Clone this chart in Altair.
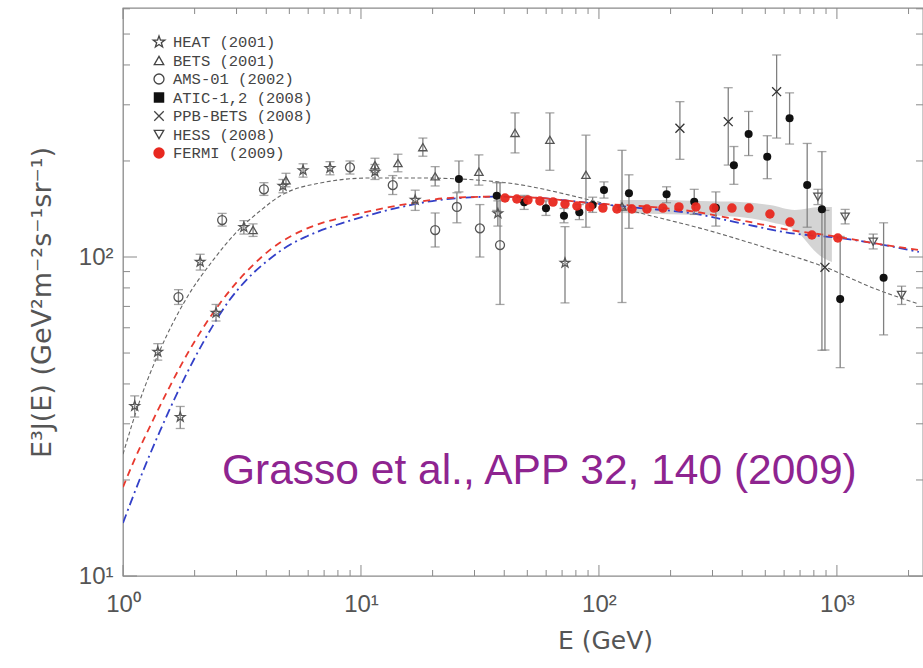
import altair as alt
import pandas as pd

# ---------------- data ----------------
heat_E = [1.12, 1.40, 1.74, 2.11, 2.46, 3.22, 4.70, 5.71, 7.41, 11.45, 16.9, 37.6, 72.0]
heat_v = [34.1, 50.4, 31.5, 96.5, 66.8, 124, 167, 187, 190, 185, 151, 137, 95.8]
heat_lo = [31.5, 47.5, 29.0, 91, 63, 118, 159, 178, 181, 175, 140, 125, 71.8]
heat_hi = [36.7, 53.5, 34.0, 102, 71, 130, 175, 196, 199, 195, 162, 150, 124.5]

bets_E = [3.52, 4.84, 11.45, 14.3, 18.2, 20.5, 31.3, 44.4, 62.2, 88.2, 125]
bets_v = [121.5, 174, 194, 197, 221, 179, 185, 245, 233, 181, 144]
bets_lo = [116, 166, 184, 185, 207, 167, 168, 212, 187, 124, 72]
bets_hi = [127, 183, 204, 210, 236, 192, 209, 283, 283, 241, 216]

ams_E = [1.71, 2.61, 3.91, 8.99, 13.6, 20.5, 25.3, 31.6, 38.4]
ams_v = [74.9, 130.6, 163, 191, 168, 121.5, 143.5, 123, 109]
ams_lo = [71, 125, 156, 182, 157, 107.5, 128, 100, 71]
ams_hi = [79, 137, 171, 200, 180, 137.4, 159, 146, 171]

atic_E = [25.8, 37.2, 48.5, 59.9, 71.3, 82.7, 94.1, 105, 133.7, 192.4, 251.4, 310,
          369, 425.6, 509.6, 632.5, 750, 865, 1032, 1571]
atic_v = [175.6, 155.6, 148.4, 142.1, 134.7, 138.1, 145.5, 162.2, 158.4, 157.2, 149.1, 142.7,
          193.9, 243, 206.2, 272.2, 168.2, 141.1, 73.8, 86.1]
atic_lo = [160, 140, 141, 135, 128, 131, 138, 153, 123, 148, 136, 125,
           169, 208, 176, 226, 124, 51, 45, 57]
atic_hi = [200, 171, 156, 150, 142, 146, 154, 172, 181, 166, 163, 160,
           222, 286, 240, 327, 227, 214, 116, 128]

ppb_E = [218.9, 349.4, 558, 890.6]
ppb_v = [253.2, 265.6, 329.8, 92.8]
ppb_lo = [202.4, 194.2, 236, 51.1]
ppb_hi = [306.9, 339.4, 429.9, 140]

hess_E = [832, 1083, 1421, 1870]
hess_v = [154.5, 133.8, 111.7, 76]
hess_lo = [146, 127, 106, 71]
hess_hi = [163, 141, 118, 81]

fermi_E = [40.3, 45.2, 50.3, 56.5, 64.1, 72.0, 80.8, 91.7, 103.9, 119.0, 137.6, 159.1,
           185.7, 216.8, 255.6, 304.2, 362.2, 426.9, 523, 634.7, 785.2, 1009]
fermi_v = [153.1, 152.0, 150.9, 149.8, 148.7, 146.6, 144.5, 143.5, 142.4, 141.4, 141.4, 141.4,
           142.4, 143.5, 143.5, 142.4, 142.4, 142.4, 136.4, 128.7, 117.2, 114.7]

# Fermi systematic band
band_E = [122.5, 180.4, 265.7, 391.3, 523, 666.1, 848.5, 952.6]
band_hi = [150.9, 150.9, 149.8, 148.7, 145.5, 140.4, 143.5, 143.5]
band_lo = [137.4, 136.4, 135.4, 133.5, 128.7, 121.5, 101.0, 96.5]

# model curves
conv_E = [1.0, 1.179, 1.431, 1.852, 2.395, 3.004, 3.763, 4.567, 6.725, 10.91, 17.7, 38.4,
          91.7, 148.7, 284.3, 538.4, 890.5, 1417, 2211]
conv_J = [24.1, 35.6, 51.1, 74.4, 97.9, 119.8, 139.4, 155.3, 170.6, 176.9, 176.9, 171.8,
          150.9, 137.4, 121.5, 105.2, 93.0, 80.0, 71.2]

red_E = [1.0, 1.102, 1.337, 1.576, 1.858, 2.168, 2.556, 3.013, 3.518, 4.146, 5.179, 6.725,
         9.256, 12.86, 16.54, 22.98, 37.27, 56.5, 91.7, 148.7, 241.2, 391.3, 634.7, 1029,
         1417, 2211]
red_J = [19.0, 22.6, 30.8, 39.4, 49.5, 59.9, 71.6, 83.5, 94.3, 105.3, 117.2, 127.2,
         135.3, 142.9, 147.7, 153.0, 154.6, 153.1, 147.6, 144.5, 139.4, 130.6, 121.5, 115.5,
         110.6, 105.2]

blue_E = [1.0, 1.213, 1.431, 1.686, 2.006, 2.366, 2.762, 3.319, 4.146, 5.031, 5.932, 7.929,
          10.91, 15.02, 22.98, 37.27, 56.5, 91.7, 148.7, 241.2, 391.3, 634.7, 1029, 1417, 2211]
blue_J = [14.66, 21.3, 28.5, 37.3, 48.4, 60.3, 72.2, 85.1, 98.8, 109.3, 116.2, 126.2,
          135.5, 143.9, 151.9, 154.6, 153.1, 147.6, 142.4, 137.4, 127.8, 118.9, 114.7, 110.6,
          103.7]

legend_labels = ["HEAT (2001)", "BETS (2001)", "AMS-01 (2002)", "ATIC-1,2 (2008)",
                 "PPB-BETS (2008)", "HESS (2008)", "FERMI (2009)"]

x_major = [1, 10, 100, 1000]
x_minor = [2, 3, 4, 5, 6, 7, 8, 9, 20, 30, 40, 50, 60, 70, 80, 90,
           200, 300, 400, 500, 600, 700, 800, 900, 2000]
y_major = [10, 100]
y_minor = [20, 30, 40, 50, 60, 70, 80, 90, 200, 300, 400, 500, 600]

# ---------------- styling ----------------
W, H = 800, 568
GREY = "#555555"
STAR = ("M0,-1L0.235,-0.324L0.951,-0.309L0.380,0.124L0.588,0.809L0,0.4L-0.588,0.809"
        "L-0.380,0.124L-0.951,-0.309L-0.235,-0.324Z")
CROSS = "M-1,-1L1,1M-1,1L1,-1"

xs = alt.Scale(type="log", domain=[1, 2300], nice=False)
ys = alt.Scale(type="log", domain=[10, 603.4], nice=False)

xaxis = alt.Axis(values=x_major,
                 labelExpr="'10' + (datum.value < 5 ? '⁰' : datum.value < 50 ? '¹' : datum.value < 500 ? '²' : '³')",
                 ticks=False, domain=False, grid=False, labelFlush=False,
                 labelFont="Liberation Sans", labelFontSize=24, labelColor=GREY, labelPadding=16,
                 title="E (GeV)", titleFont="DejaVu Sans", titleFontSize=25, titleColor=GREY,
                 titleFontWeight="normal", titleX=482, titleY=64, titleBaseline="middle")
yaxis = alt.Axis(values=y_major,
                 labelExpr="'10' + (datum.value < 50 ? '¹' : '²')",
                 ticks=False, domain=False, grid=False, labelFlush=False,
                 labelFont="Liberation Sans", labelFontSize=24, labelColor=GREY, labelPadding=10,
                 title="E³J(E) (GeV²m⁻²s⁻¹sr⁻¹)", titleFont="DejaVu Sans", titleFontSize=27,
                 titleColor=GREY, titleFontWeight="normal", titleX=-81, titleY=294,
                 titleBaseline="middle", titleAngle=270, titleAlign="center")


def X(f="E"):
    return alt.X(f + ":Q", scale=xs, axis=xaxis)


def Y(f):
    return alt.Y(f + ":Q", scale=ys, axis=yaxis)


layers = []

# band
band_df = pd.DataFrame({"E": band_E, "lo": band_lo, "hi": band_hi})
layers.append(alt.Chart(band_df).mark_area(color="#cccccc", opacity=0.85, interpolate="monotone",
                                           clip=True)
              .encode(x=X(), y=Y("lo"), y2=alt.Y2("hi:Q")))

# curves
conv_df = pd.DataFrame({"E": conv_E, "J": conv_J})
red_df = pd.DataFrame({"E": red_E, "J": red_J})
blue_df = pd.DataFrame({"E": blue_E, "J": blue_J})
layers.append(alt.Chart(conv_df).mark_line(color="#666666", strokeWidth=1.1, strokeDash=[4, 2.5],
                                           interpolate="monotone", clip=True)
              .encode(x=X(), y=Y("J")))
layers.append(alt.Chart(blue_df).mark_line(color="#3340c8", strokeWidth=1.8, strokeDash=[9, 4, 2, 4],
                                           interpolate="monotone", clip=True)
              .encode(x=X(), y=Y("J")))
layers.append(alt.Chart(red_df).mark_line(color="#e8392e", strokeWidth=1.8, strokeDash=[7, 5],
                                          interpolate="monotone", clip=True)
              .encode(x=X(), y=Y("J")))

# error bars
err_df = pd.DataFrame({
    "E": heat_E + bets_E + ams_E + atic_E + ppb_E + hess_E,
    "lo": heat_lo + bets_lo + ams_lo + atic_lo + ppb_lo + hess_lo,
    "hi": heat_hi + bets_hi + ams_hi + atic_hi + ppb_hi + hess_hi,
})
layers.append(alt.Chart(err_df).mark_rule(color="#808080", strokeWidth=1.3, clip=True)
              .encode(x=X(), y=Y("lo"), y2=alt.Y2("hi:Q")))
for f in ["lo", "hi"]:
    layers.append(alt.Chart(err_df).mark_tick(orient="horizontal", size=9, thickness=1.3,
                                              color="#808080", clip=True)
                  .encode(x=X(), y=Y(f)))

# markers
series = [
    (heat_E, heat_v, STAR, False, "#555555", 100),
    (bets_E, bets_v, "triangle-up", False, "#555555", 70),
    (ams_E, ams_v, "circle", False, "#555555", 80),
    (ppb_E, ppb_v, CROSS, False, "#333333", 80),
    (hess_E, hess_v, "triangle-down", False, "#555555", 70),
    (atic_E, atic_v, "circle", True, "#111111", 65),
]
for E, v, shape, filled, col, size in series:
    df = pd.DataFrame({"E": E, "J": v})
    if filled:
        m = alt.Chart(df).mark_point(shape=shape, filled=True, color=col, size=size, opacity=1, clip=True)
    else:
        m = alt.Chart(df).mark_point(shape=shape, filled=False, color=col, strokeWidth=1.3,
                                     size=size, opacity=1, clip=True)
    layers.append(m.encode(x=X(), y=Y("J")))

fermi_df = pd.DataFrame({"E": fermi_E, "J": fermi_v})
layers.append(alt.Chart(fermi_df).mark_point(shape="circle", filled=True, color="#e8281f",
                                             size=90, opacity=0.95, clip=True)
              .encode(x=X(), y=Y("J")))

# inward ticks on all four sides
TICK = "#8a8a8a"
for vals, ln in [(x_major, 11), (x_minor, 6)]:
    tdf = pd.DataFrame({"E": vals})
    layers.append(alt.Chart(tdf).mark_rule(color=TICK, strokeWidth=1)
                  .encode(x=X(), y=alt.value(H), y2=alt.value(H - ln)))
    layers.append(alt.Chart(tdf).mark_rule(color=TICK, strokeWidth=1)
                  .encode(x=X(), y=alt.value(0), y2=alt.value(ln)))
for vals, ln in [(y_major, 14), (y_minor, 7)]:
    tdf = pd.DataFrame({"J": vals})
    layers.append(alt.Chart(tdf).mark_rule(color=TICK, strokeWidth=1)
                  .encode(y=Y("J"), x=alt.value(0), x2=alt.value(ln)))
    layers.append(alt.Chart(tdf).mark_rule(color=TICK, strokeWidth=1)
                  .encode(y=Y("J"), x=alt.value(W), x2=alt.value(W - ln)))

# legend (drawn inside the frame)
leg_style = [(STAR, False, "#444444", 150), ("triangle-up", False, "#444444", 90),
             ("circle", False, "#444444", 100), ("square", True, "#111111", 110),
             (CROSS, False, "#444444", 90), ("triangle-down", False, "#444444", 90),
             ("circle", True, "#e8281f", 130)]
for i, (lab, (shape, filled, col, size)) in enumerate(zip(legend_labels, leg_style)):
    ypix = 34 + 18.5 * i
    ldf = pd.DataFrame({"label": [lab]})
    if filled:
        sym = alt.Chart(ldf).mark_point(shape=shape, filled=True, color=col, size=size, opacity=1)
    else:
        sym = alt.Chart(ldf).mark_point(shape=shape, filled=False, color=col, strokeWidth=1.3,
                                        size=size, opacity=1)
    layers.append(sym.encode(x=alt.value(36), y=alt.value(ypix)))
    layers.append(alt.Chart(ldf).mark_text(align="left", baseline="middle", font="Liberation Mono",
                                           fontSize=15.5, color="#444444")
                  .encode(x=alt.value(50), y=alt.value(ypix), text="label:N"))

# citation annotation
layers.append(alt.Chart(pd.DataFrame({"t": ["Grasso et al., APP 32, 140 (2009)"]}))
              .mark_text(align="left", baseline="alphabetic", font="Liberation Sans",
                         fontSize=42.5, color="#8e2490")
              .encode(x=alt.value(99), y=alt.value(476), text="t:N"))

chart = (alt.layer(*layers)
         .properties(width=W, height=H, autosize=alt.AutoSizeParams(type="none"),
                     padding={"left": 123, "top": 8, "right": 0, "bottom": 92},
                     background="white")
         .configure_view(stroke="#8a8a8a", strokeWidth=1.3))

chart.save("out.html", embed_options={"renderer": "svg", "actions": False})
